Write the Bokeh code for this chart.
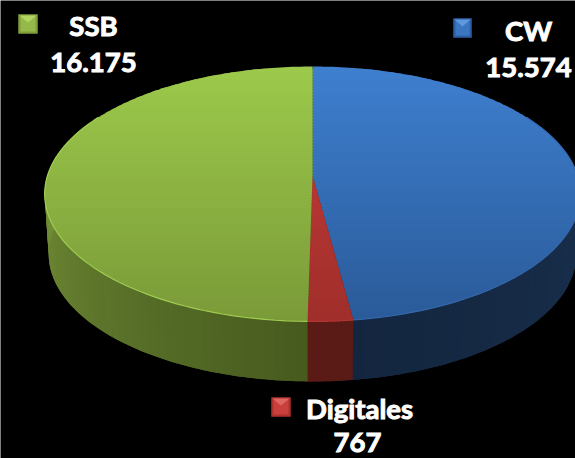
import math
from bokeh.plotting import figure
from bokeh.models import Range1d, ColumnDataSource
from bokeh.core.properties import value
from bokeh.embed import file_html
from bokeh.resources import INLINE

categories = ["CW", "Digitales", "SSB"]
values = [15574, 767, 16175]
value_labels = ["15.574", "767", "16.175"]
top_from = ["#3e7fcf", "#c83d3b", "#9cc94b"]
top_to = ["#2a5a98", "#a02e2a", "#7a9a38"]
side_from = ["#13253e", "#5a1a16", "#465a1e"]
side_to = ["#1b3352", "#541814", "#7f9e3e"]
rim_colors = ["#3567ac", "#b03633", "#a0cc50"]

CX, Y0, R, A, K, DEPTH, SCALE = 312, 175, 265, 124.8, 0.145, 60, 0.985


def hex2rgb(c):
    return [int(c[i:i + 2], 16) for i in (1, 3, 5)]


def lerp(c1, c2, f):
    f = max(0, min(1, f))
    a, b = hex2rgb(c1), hex2rgb(c2)
    return "#%02x%02x%02x" % tuple(round(a[i] + (b[i] - a[i]) * f) for i in range(3))


def rim(t_deg):
    t = math.radians(t_deg)
    X, Y = math.sin(t), -math.cos(t)
    d = 1 - K * Y
    return CX + R * X / d, Y0 + A * Y / d


def clip(poly, ymin, ymax):
    def cut(pts, inside, ycut):
        out = []
        for i, p in enumerate(pts):
            q = pts[(i + 1) % len(pts)]
            if inside(p):
                out.append(p)
            if inside(p) != inside(q):
                f = (ycut - p[1]) / (q[1] - p[1])
                out.append((p[0] + f * (q[0] - p[0]), ycut))
        return out
    pts = cut(poly, lambda p: p[1] >= ymin, ymin)
    if pts:
        pts = cut(pts, lambda p: p[1] <= ymax, ymax)
    return pts


total = sum(values)
spans = []
acc = 0
for v in values:
    spans.append((acc / total * 360, (acc + v) / total * 360))
    acc += v

p = figure(width=575, height=458, x_range=Range1d(0, 575), y_range=Range1d(458, 0),
           output_backend="svg", toolbar_location=None, background_fill_color="#000000",
           border_fill_color="#000000", min_border=0, outline_line_color=None)
p.axis.visible = False
p.grid.visible = False

# side wall: strips overlap the next one, later strips paint over
sx, sy, sc = [], [], []
STEP = 2.0
bx = lambda x: CX + (x - CX) * SCALE
for i, (a, b) in enumerate(spans):
    a2, b2 = max(a, 60), min(b, 300)
    n = max(1, int((b2 - a2) / STEP))
    for j in range(n):
        t1 = a2 + (b2 - a2) * j / n
        t2 = a2 + (b2 - a2) * (j + 2) / n
        t_end = min(t2, 300)
        mid = a2 + (b2 - a2) * (j + 0.5) / n
        f = abs(mid - 180) / 120
        col = lerp(side_from[i], side_to[i], f)
        ts = [t1 + (t_end - t1) * k / 4 for k in range(5)]
        pts = [rim(u) for u in ts]
        sx.append([q[0] for q in pts] + [bx(q[0]) for q in reversed(pts)])
        sy.append([q[1] for q in pts] + [q[1] + DEPTH for q in reversed(pts)])
        sc.append(col)
p.patches("x", "y", source=ColumnDataSource(dict(x=sx, y=sy, c=sc)), fill_color="c", line_color=None)

# top face in horizontal bands, each overlapping the band below it
tx, ty, tc = [], [], []
YT, YB = rim(0)[1], rim(180)[1]
for i, (a, b) in enumerate(spans):
    n = max(2, int(b - a))
    poly = [(CX, Y0)] + [rim(a + (b - a) * j / n) for j in range(n + 1)]
    y = YT
    while y < YB:
        part = clip(poly, y, y + 5)
        if len(part) >= 3:
            tx.append([q[0] for q in part])
            ty.append([q[1] for q in part])
            tc.append(lerp(top_from[i], top_to[i], (y - YT) / (YB - YT)))
        y += 3
p.patches("x", "y", source=ColumnDataSource(dict(x=tx, y=ty, c=tc)), fill_color="c", line_color=None)

# front edge highlight
for i, (a, b) in enumerate(spans):
    a2, b2 = max(a, 60), min(b, 300)
    n = 60
    pts = [rim(a2 + (b2 - a2) * j / n) for j in range(n + 1)]
    p.line([q[0] for q in pts], [q[1] for q in pts], line_color=rim_colors[i], line_width=1.2)

# legend keys
key_boxes = {"CW": (453, 471, 18, 37), "Digitales": (271, 290, 397, 416), "SSB": (18, 37, 14, 33)}
key_base = {"CW": "#2c60a2", "Digitales": "#ae302d", "SSB": "#7f9f3a"}
key_mid = {"CW": "#3a76c2", "Digitales": "#c9403d", "SSB": "#94b94a"}
key_light = {"CW": "#5f98dc", "Digitales": "#e06664", "SSB": "#b4d562"}
for c in categories:
    x0, x1, y0, y1 = key_boxes[c]
    p.patch([x0, x1, x1, x0], [y0, y0, y1, y1], fill_color=key_base[c], line_color=key_base[c], line_width=0.5)
    p.patch([x0 + 2, x1 - 2, x1 - 2, x0 + 2], [y0 + 2, y0 + 2, y1 - 2, y1 - 2], fill_color=key_mid[c], line_color=None)
    xm = (x0 + x1) / 2
    p.patch([x0 + 1, x1 - 1, xm], [y0 + 1, y0 + 1, y0 + 8], fill_color=key_light[c], line_color=None)

# labels
label_pos = {"CW": (528, 30, 528, 67), "Digitales": (359, 408, 357, 442), "SSB": (93, 25, 93, 62)}
for c, lab in zip(categories, value_labels):
    x0, y0, x1, y1 = label_pos[c]
    p.text([x0, x1], [y0, y1], text=[c, lab], text_color="#ffffff", text_font=value("Lato"),
           text_font_style="bold", text_font_size="27.5px", text_align="center", text_baseline="middle",
           text_outline_color="#ffffff")

open("out.html", "w").write(file_html(p, INLINE))
